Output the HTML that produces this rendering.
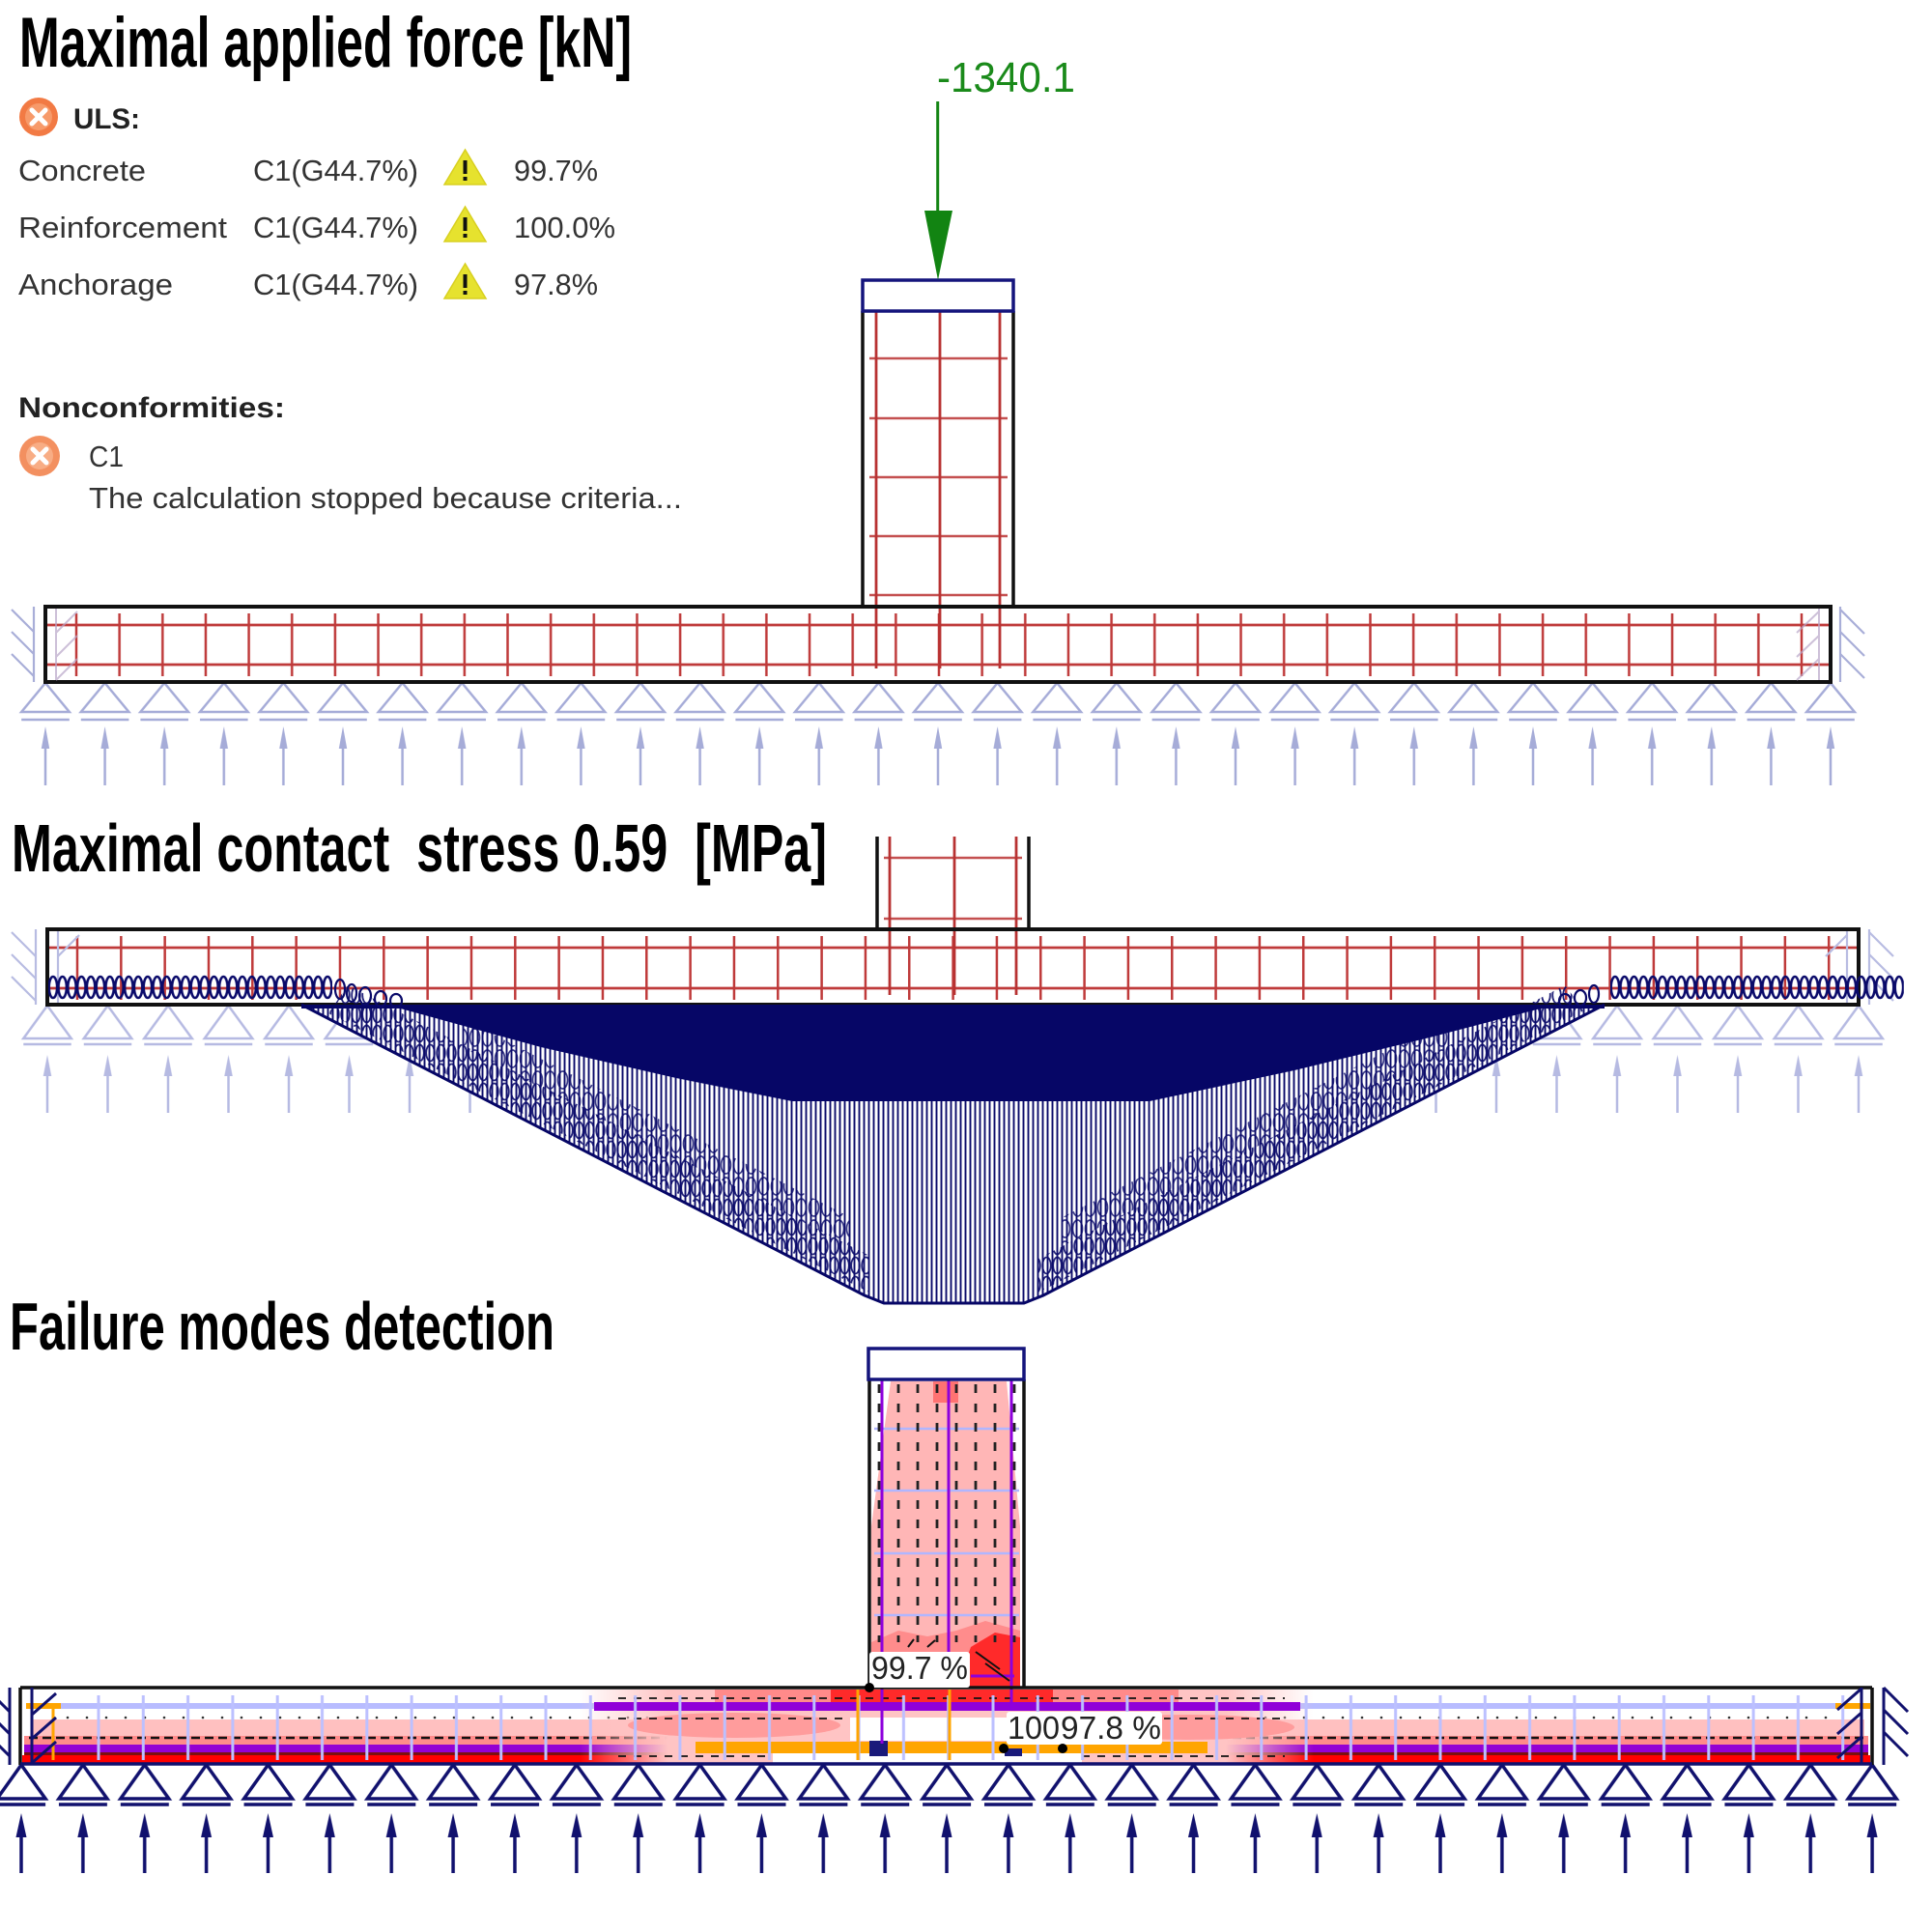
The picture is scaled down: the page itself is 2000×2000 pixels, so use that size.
<!DOCTYPE html>
<html><head><meta charset="utf-8">
<style>
html,body{margin:0;padding:0;background:#fff;}
svg{display:block;}
text{font-family:"Liberation Sans",sans-serif;}
</style></head>
<body>
<svg width="2000" height="2000" viewBox="0 0 2000 2000" xmlns="http://www.w3.org/2000/svg">
<defs>
  <pattern id="sup1" patternUnits="userSpaceOnUse" x="16.2" y="700" width="61.6" height="120">
    <g stroke="#a6acd8" stroke-width="2.5" fill="none">
      <polygon points="30.8,7 6,37 55.6,37"/>
      <line x1="6" y1="45" x2="55.6" y2="45"/>
      <line x1="30.8" y1="113" x2="30.8" y2="70"/>
    </g>
    <polygon points="30.8,52 26.6,75 35,75" fill="#a6acd8"/>
  </pattern>
  <pattern id="sup2" patternUnits="userSpaceOnUse" x="17.75" y="1035" width="62.5" height="125">
    <g stroke="#b6bae2" stroke-width="2.5" fill="none">
      <polygon points="31.25,6 6.5,40 56,40"/>
      <line x1="6.5" y1="46" x2="56" y2="46"/>
      <line x1="31.25" y1="117" x2="31.25" y2="72"/>
    </g>
    <polygon points="31.25,57 27,79 35.5,79" fill="#b6bae2"/>
  </pattern>
  <pattern id="sup3" patternUnits="userSpaceOnUse" x="-9.93" y="1822" width="63.87" height="125">
    <g stroke="#11116e" stroke-width="3.5" fill="none">
      <polygon points="31.93,5 7,40 57,40" stroke-linejoin="miter"/>
      <line x1="7" y1="46" x2="57" y2="46"/>
      <line x1="31.93" y1="117" x2="31.93" y2="72"/>
    </g>
    <polygon points="31.93,55 26.4,80 37.4,80" fill="#11116e"/>
  </pattern>
  <pattern id="st1" patternUnits="userSpaceOnUse" x="56.675" y="630" width="44.65" height="80">
    <line x1="22.325" y1="5" x2="22.325" y2="70" stroke="#bf3a3a" stroke-width="2.5"/>
  </pattern>
  <pattern id="st2" patternUnits="userSpaceOnUse" x="57.335" y="965" width="45.33" height="80">
    <line x1="22.665" y1="4" x2="22.665" y2="70" stroke="#bf3a3a" stroke-width="2.5"/>
  </pattern>
  <pattern id="st3" patternUnits="userSpaceOnUse" x="78.85" y="1750" width="46.3" height="80">
    <line x1="23.15" y1="5" x2="23.15" y2="72" stroke="#bcc0ff" stroke-width="3"/>
  </pattern>
  <pattern id="ell" patternUnits="userSpaceOnUse" x="50" y="1008" width="9.8" height="28">
    <ellipse cx="4.9" cy="14" rx="4.2" ry="11" fill="none" stroke="#0a0a6a" stroke-width="2.6"/>
  </pattern>
  <pattern id="ell2" patternUnits="userSpaceOnUse" x="0" y="0" width="11" height="20">
    <ellipse cx="5.5" cy="10" rx="4.3" ry="8.5" fill="none" stroke="#0a0a6a" stroke-width="1.8"/>
  </pattern>
  <pattern id="ell3" patternUnits="userSpaceOnUse" x="4" y="7" width="13" height="22">
    <ellipse cx="6.5" cy="11" rx="5" ry="9" fill="none" stroke="#0a0a6a" stroke-width="1.7"/>
  </pattern>
  <pattern id="vs" patternUnits="userSpaceOnUse" x="312" y="0" width="5" height="10">
    <line x1="2.5" y1="0" x2="2.5" y2="10" stroke="#0a0a6a" stroke-width="1.9"/>
  </pattern>
  <pattern id="dots" patternUnits="userSpaceOnUse" x="0" y="1775" width="20" height="6">
    <circle cx="10" cy="3" r="1.3" fill="#333"/>
  </pattern>
  <pattern id="cd" patternUnits="userSpaceOnUse" x="900" y="1430" width="20" height="20">
    <line x1="10" y1="3" x2="10" y2="12" stroke="#222" stroke-width="2.8"/>
  </pattern>
  <linearGradient id="cg" x1="0" x2="1" y1="0" y2="0">
    <stop offset="0" stop-color="#ffc4c4" stop-opacity="0"/>
    <stop offset="0.12" stop-color="#ffc4c4" stop-opacity="1"/>
    <stop offset="0.88" stop-color="#ffc4c4" stop-opacity="1"/>
    <stop offset="1" stop-color="#ffc4c4" stop-opacity="0"/>
  </linearGradient>
</defs>

<!-- ================= TITLES / TEXT ================= -->
<text x="20" y="69" font-size="73" font-weight="bold" fill="#000" textLength="634" lengthAdjust="spacingAndGlyphs">Maximal applied force [kN]</text>

<circle cx="40" cy="121" r="20" fill="#f27a44"/>
<circle cx="40" cy="121" r="14" fill="#f79a6a"/>
<g stroke="#fff" stroke-width="5" stroke-linecap="round">
  <line x1="33" y1="114" x2="47" y2="128"/><line x1="47" y1="114" x2="33" y2="128"/>
</g>
<text x="76" y="133" font-size="30" font-weight="bold" fill="#222" textLength="69" lengthAdjust="spacingAndGlyphs">ULS:</text>

<g font-size="31" fill="#333">
  <text x="19" y="187" textLength="132" lengthAdjust="spacingAndGlyphs">Concrete</text>
  <text x="262" y="187" textLength="171" lengthAdjust="spacingAndGlyphs">C1(G44.7%)</text>
  <text x="532" y="187" textLength="87" lengthAdjust="spacingAndGlyphs">99.7%</text>
  <text x="19" y="246" textLength="216" lengthAdjust="spacingAndGlyphs">Reinforcement</text>
  <text x="262" y="246" textLength="171" lengthAdjust="spacingAndGlyphs">C1(G44.7%)</text>
  <text x="532" y="246" textLength="105" lengthAdjust="spacingAndGlyphs">100.0%</text>
  <text x="19" y="305" textLength="160" lengthAdjust="spacingAndGlyphs">Anchorage</text>
  <text x="262" y="305" textLength="171" lengthAdjust="spacingAndGlyphs">C1(G44.7%)</text>
  <text x="532" y="305" textLength="87" lengthAdjust="spacingAndGlyphs">97.8%</text>
</g>
<g>
  <polygon points="481.5,155 460,191 503,191" fill="#e6e22e" stroke="#d8d020" stroke-width="1.5"/>
  <rect x="479.5" y="166" width="4" height="14" fill="#111"/><rect x="479.5" y="183" width="4" height="4" fill="#111"/>
  <polygon points="481.5,214 460,250 503,250" fill="#e6e22e" stroke="#d8d020" stroke-width="1.5"/>
  <rect x="479.5" y="225" width="4" height="14" fill="#111"/><rect x="479.5" y="242" width="4" height="4" fill="#111"/>
  <polygon points="481.5,273 460,309 503,309" fill="#e6e22e" stroke="#d8d020" stroke-width="1.5"/>
  <rect x="479.5" y="284" width="4" height="14" fill="#111"/><rect x="479.5" y="301" width="4" height="4" fill="#111"/>
</g>

<text x="19" y="432" font-size="30" font-weight="bold" fill="#222" textLength="276" lengthAdjust="spacingAndGlyphs">Nonconformities:</text>
<circle cx="41" cy="472" r="21" fill="#f39060"/>
<circle cx="41" cy="472" r="14" fill="#f8ad85"/>
<g stroke="#fff" stroke-width="5" stroke-linecap="round">
  <line x1="34" y1="465" x2="48" y2="479"/><line x1="48" y1="465" x2="34" y2="479"/>
</g>
<text x="92" y="483" font-size="31" fill="#333" textLength="36" lengthAdjust="spacingAndGlyphs">C1</text>
<text x="92" y="526" font-size="31" fill="#333" textLength="614" lengthAdjust="spacingAndGlyphs">The calculation stopped because criteria...</text>

<text x="12" y="902" font-size="70" font-weight="bold" fill="#000" textLength="844" lengthAdjust="spacingAndGlyphs" xml:space="preserve">Maximal contact  stress 0.59  [MPa]</text>
<text x="10" y="1397" font-size="70" font-weight="bold" fill="#000" textLength="564" lengthAdjust="spacingAndGlyphs">Failure modes detection</text>

<!-- ================= SECTION 1 ================= -->
<rect x="16.2" y="700" width="1909.6" height="120" fill="url(#sup1)"/>
<rect x="56.675" y="630" width="1830.65" height="75" fill="url(#st1)"/>
<g stroke="#bf3a3a" stroke-width="2.8">
  <line x1="47" y1="647" x2="1895" y2="647"/>
  <line x1="47" y1="688" x2="1895" y2="688"/>
</g>
<g stroke="#c45050" stroke-width="2.5">
  <line x1="900" y1="371" x2="1043" y2="371"/>
  <line x1="900" y1="433" x2="1043" y2="433"/>
  <line x1="900" y1="494" x2="1043" y2="494"/>
  <line x1="900" y1="555" x2="1043" y2="555"/>
  <line x1="900" y1="616" x2="1043" y2="616"/>
</g>
<g stroke="#b83232" stroke-width="2.8">
  <line x1="907" y1="322" x2="907" y2="692"/>
  <line x1="973" y1="322" x2="973" y2="692"/>
  <line x1="1035" y1="322" x2="1035" y2="692"/>
</g>
<g stroke="#111" stroke-width="3.5">
  <line x1="893" y1="322" x2="893" y2="628"/>
  <line x1="1049" y1="322" x2="1049" y2="628"/>
</g>
<rect x="47" y="628" width="1848" height="78" fill="none" stroke="#111" stroke-width="4"/>
<rect x="893" y="290" width="156" height="32" fill="#fff" stroke="#14147c" stroke-width="3.5"/>
<g stroke="#a9aed8" stroke-width="2.2">
  <line x1="35" y1="628" x2="35" y2="706"/>
  <line x1="12" y1="631" x2="35" y2="654"/>
  <line x1="12" y1="654" x2="35" y2="677"/>
  <line x1="12" y1="677" x2="35" y2="700"/>
  <line x1="1905" y1="628" x2="1905" y2="706"/>
  <line x1="1905" y1="631" x2="1930" y2="656"/>
  <line x1="1905" y1="654" x2="1930" y2="679"/>
  <line x1="1905" y1="677" x2="1930" y2="702"/>
</g>
<g stroke="#b8a6c8" stroke-width="2" opacity="0.7">
  <line x1="58" y1="630" x2="58" y2="704"/>
  <line x1="58" y1="655" x2="80" y2="633"/>
  <line x1="58" y1="680" x2="80" y2="658"/>
  <line x1="58" y1="704" x2="80" y2="682"/>
  <line x1="1883" y1="630" x2="1883" y2="704"/>
  <line x1="1860" y1="655" x2="1883" y2="633"/>
  <line x1="1860" y1="680" x2="1883" y2="658"/>
  <line x1="1860" y1="704" x2="1883" y2="682"/>
</g>
<line x1="970.7" y1="105" x2="970.7" y2="225" stroke="#128412" stroke-width="3"/>
<polygon points="957,218 986,218 971,290" fill="#128412"/>
<text x="970" y="95" font-size="44" fill="#1a8a1a" textLength="143" lengthAdjust="spacingAndGlyphs">-1340.1</text>

<!-- ================= SECTION 2 ================= -->
<rect x="17.75" y="1035" width="1937.5" height="125" fill="url(#sup2)"/>
<rect x="57.335" y="965" width="1858.5" height="75" fill="url(#st2)"/>
<g stroke="#bf3a3a" stroke-width="2.8">
  <line x1="49" y1="981" x2="1924" y2="981"/>
  <line x1="49" y1="1023" x2="1924" y2="1023"/>
</g>
<g stroke="#c45050" stroke-width="2.5">
  <line x1="915" y1="888" x2="1058" y2="888"/>
  <line x1="915" y1="951" x2="1058" y2="951"/>
</g>
<g stroke="#b83232" stroke-width="2.8">
  <line x1="921" y1="866" x2="921" y2="1030"/>
  <line x1="988" y1="866" x2="988" y2="1030"/>
  <line x1="1052" y1="866" x2="1052" y2="1030"/>
</g>
<g stroke="#111" stroke-width="3.5">
  <line x1="908" y1="866" x2="908" y2="962"/>
  <line x1="1065" y1="866" x2="1065" y2="962"/>
</g>
<rect x="49" y="962" width="1875" height="78" fill="none" stroke="#111" stroke-width="4"/>
<g stroke="#b8bce2" stroke-width="2.2">
  <line x1="37" y1="962" x2="37" y2="1040"/>
  <line x1="12" y1="965" x2="37" y2="990"/>
  <line x1="12" y1="988" x2="37" y2="1013"/>
  <line x1="12" y1="1011" x2="37" y2="1036"/>
  <line x1="1935" y1="962" x2="1935" y2="1040"/>
  <line x1="1935" y1="965" x2="1960" y2="990"/>
  <line x1="1935" y1="988" x2="1960" y2="1013"/>
  <line x1="1935" y1="1011" x2="1960" y2="1036"/>
  <line x1="60" y1="964" x2="60" y2="1038"/>
  <line x1="60" y1="990" x2="82" y2="968"/>
  <line x1="1912" y1="964" x2="1912" y2="1038"/>
  <line x1="1890" y1="990" x2="1912" y2="968"/>
</g>
<!-- contact stress diagram -->
<polygon points="312,1040 895,1341 915,1349 1060,1349 1080,1341 1661,1040" fill="#fff"/>
<polygon points="312,1040 895,1341 915,1349 1060,1349 1080,1341 1661,1040" fill="url(#vs)"/>
<polygon points="360,1020 900,1300 900,1338 340,1049" fill="url(#ell2)" opacity="0.9"/>
<polygon points="480,1055 880,1260 880,1290 480,1085" fill="url(#ell3)" opacity="0.8"/>
<polygon points="1075,1303 1620,1020 1640,1046 1075,1338" fill="url(#ell2)" opacity="0.9"/>
<polygon points="1100,1260 1500,1055 1500,1085 1100,1290" fill="url(#ell3)" opacity="0.8"/>
<polygon points="400,1040 560,1084 700,1116 820,1140 1190,1140 1340,1108 1480,1074 1610,1040" fill="#060666"/>
<rect x="312" y="1040" width="1349" height="4" fill="#060666"/>
<polyline points="312,1040 895,1341 915,1349 1060,1349 1080,1341 1661,1040" fill="none" stroke="#060666" stroke-width="3"/>
<rect x="50" y="1008" width="294" height="28" fill="url(#ell)"/>
<rect x="1667" y="1008" width="303.8" height="28" fill="url(#ell)"/>
<g fill="none" stroke="#0a0a6a" stroke-width="2.2">
  <ellipse cx="352" cy="1024" rx="5" ry="10"/>
  <ellipse cx="364" cy="1028" rx="5" ry="9"/>
  <ellipse cx="378" cy="1031" rx="6" ry="9"/>
  <ellipse cx="394" cy="1034" rx="6" ry="8"/>
  <ellipse cx="410" cy="1036" rx="6" ry="7"/>
  <ellipse cx="1620" cy="1036" rx="6" ry="7"/>
  <ellipse cx="1636" cy="1033" rx="6" ry="8"/>
  <ellipse cx="1650" cy="1029" rx="5" ry="9"/>
</g>

<!-- ================= SECTION 3 ================= -->
<rect x="-9.93" y="1822" width="1980" height="125" fill="url(#sup3)"/>
<!-- beam layers -->
<rect x="23" y="1749" width="1913" height="76" fill="#fff"/>
<rect x="63" y="1763" width="1837" height="6" fill="#b8bcff"/>
<rect x="27" y="1763" width="36" height="6" fill="#ffa500"/>
<rect x="1900" y="1763" width="36" height="6" fill="#ffa500"/>
<rect x="32" y="1780" width="1898" height="17" fill="#ffc0c0"/>
<rect x="25" y="1797" width="1909" height="9" fill="#ff8a8a"/>
<rect x="25" y="1806" width="1909" height="8" fill="#9400d3"/>
<rect x="25" y="1814" width="1909" height="3" fill="#7a1010"/>
<rect x="23" y="1817" width="1913" height="8" fill="#ff0000"/>
<rect x="60" y="1775" width="1840" height="6" fill="url(#dots)"/>
<line x1="30" y1="1799" x2="1932" y2="1799" stroke="#111" stroke-width="2.5" stroke-dasharray="9 5"/>
<!-- center region -->
<rect x="600" y="1749" width="760" height="76" fill="url(#cg)"/>
<rect x="740" y="1749" width="480" height="13" fill="#ff8a8a"/>
<rect x="860" y="1749" width="230" height="13" fill="#ff2a2a"/>
<rect x="615" y="1762" width="731" height="9" fill="#9000d8"/>
<ellipse cx="760" cy="1786" rx="110" ry="13" fill="#ff9c9c"/>
<ellipse cx="1230" cy="1788" rx="110" ry="13" fill="#ff9c9c"/>
<rect x="880" y="1778" width="165" height="24" fill="#fff"/>
<rect x="800" y="1815" width="320" height="10" fill="#fff"/>
<rect x="720" y="1803" width="530" height="12" fill="#ffa500"/>
<rect x="900" y="1802" width="19" height="16" fill="#1a1a7a"/>
<rect x="1040" y="1810" width="18" height="8" fill="#1a1a7a"/>
<g stroke="#111" stroke-width="1.8" stroke-dasharray="8 8">
  <line x1="640" y1="1758" x2="1330" y2="1758"/>
  <line x1="640" y1="1779" x2="880" y2="1779"/>
  <line x1="1045" y1="1779" x2="1330" y2="1779"/>
  <line x1="640" y1="1818" x2="800" y2="1818"/>
  <line x1="1120" y1="1818" x2="1330" y2="1818"/>
</g>
<rect x="78.85" y="1750" width="1852" height="75" fill="url(#st3)"/>
<g stroke="#ffa500" stroke-width="3">
  <line x1="55" y1="1768" x2="55" y2="1822"/>
  <line x1="888" y1="1749" x2="888" y2="1822"/>
  <line x1="983" y1="1749" x2="983" y2="1822"/>
</g>
<!-- column 3 -->
<rect x="902" y="1428" width="156" height="319" fill="#fff"/>
<polygon points="922,1430 1042,1430 1056,1580 1056,1747 902,1747 902,1580" fill="#ffb6b6"/>
<polygon points="902,1700 930,1688 960,1694 990,1688 1020,1678 1056,1688 1056,1747 902,1747" fill="#ff8c8c"/>
<polygon points="1005,1705 1030,1690 1056,1695 1056,1747 990,1747" fill="#ff2a2a"/>
<rect x="966" y="1430" width="26" height="22" fill="#ff7272"/>
<g stroke="#b0b6ff" stroke-width="2.5">
  <line x1="905" y1="1479" x2="1055" y2="1479"/>
  <line x1="905" y1="1543" x2="1055" y2="1543"/>
  <line x1="905" y1="1608" x2="1055" y2="1608"/>
  <line x1="905" y1="1672" x2="1055" y2="1672"/>
</g>
<rect x="902" y="1430" width="156" height="270" fill="url(#cd)"/>
<g stroke="#8e00dc" stroke-width="3">
  <line x1="913" y1="1428" x2="913" y2="1805"/>
  <line x1="982" y1="1428" x2="982" y2="1745"/>
  <line x1="1047" y1="1428" x2="1047" y2="1770"/>
  <line x1="1005" y1="1735" x2="1050" y2="1735"/>
</g>
<g stroke="#111" stroke-width="2" >
  <line x1="1010" y1="1710" x2="1035" y2="1728"/>
  <line x1="1020" y1="1722" x2="1045" y2="1740"/>
  <line x1="960" y1="1705" x2="968" y2="1698"/>
  <line x1="940" y1="1705" x2="946" y2="1697"/>
</g>
<g stroke="#111" stroke-width="3.5">
  <line x1="900" y1="1428" x2="900" y2="1747"/>
  <line x1="1060" y1="1428" x2="1060" y2="1747"/>
</g>
<rect x="899" y="1396" width="161" height="32" fill="#fff" stroke="#14147c" stroke-width="3.5"/>
<!-- beam outline -->
<line x1="21" y1="1747" x2="1938" y2="1747" stroke="#111" stroke-width="3.5"/>
<line x1="21" y1="1747" x2="21" y2="1827" stroke="#111" stroke-width="3.5"/>
<line x1="1938" y1="1747" x2="1938" y2="1827" stroke="#111" stroke-width="3.5"/>
<line x1="21" y1="1826" x2="1938" y2="1826" stroke="#10106e" stroke-width="3.5"/>
<!-- hatches 3 -->
<g stroke="#11116e" stroke-width="3">
  <line x1="10" y1="1747" x2="10" y2="1827"/>
  <line x1="-14" y1="1748" x2="10" y2="1772"/>
  <line x1="-14" y1="1771" x2="10" y2="1795"/>
  <line x1="-14" y1="1794" x2="10" y2="1818"/>
  <line x1="33" y1="1747" x2="33" y2="1827"/>
  <line x1="33" y1="1775" x2="58" y2="1753"/>
  <line x1="33" y1="1800" x2="58" y2="1778"/>
  <line x1="33" y1="1825" x2="58" y2="1803"/>
  <line x1="1927" y1="1747" x2="1927" y2="1827"/>
  <line x1="1902" y1="1770" x2="1927" y2="1748"/>
  <line x1="1902" y1="1795" x2="1927" y2="1773"/>
  <line x1="1902" y1="1820" x2="1927" y2="1798"/>
  <line x1="1950" y1="1747" x2="1950" y2="1827"/>
  <line x1="1950" y1="1747" x2="1975" y2="1772"/>
  <line x1="1950" y1="1770" x2="1975" y2="1795"/>
  <line x1="1950" y1="1793" x2="1975" y2="1818"/>
</g>
<!-- labels -->
<rect x="900" y="1710" width="104" height="37" rx="3" fill="#fff"/>
<text x="902" y="1738" font-size="33" fill="#222" textLength="100" lengthAdjust="spacingAndGlyphs">99.7 %</text>
<circle cx="900" cy="1747" r="5" fill="#000"/>
<rect x="1042" y="1772" width="161" height="34" rx="3" fill="#fff"/>
<text x="1043" y="1800" font-size="33" fill="#222" textLength="54" lengthAdjust="spacingAndGlyphs">100</text>
<text x="1098" y="1800" font-size="33" fill="#222" textLength="104" lengthAdjust="spacingAndGlyphs">97.8 %</text>
<circle cx="1039" cy="1810" r="5" fill="#000"/>
<circle cx="1100" cy="1810" r="5" fill="#000"/>
</svg>
</body></html>
